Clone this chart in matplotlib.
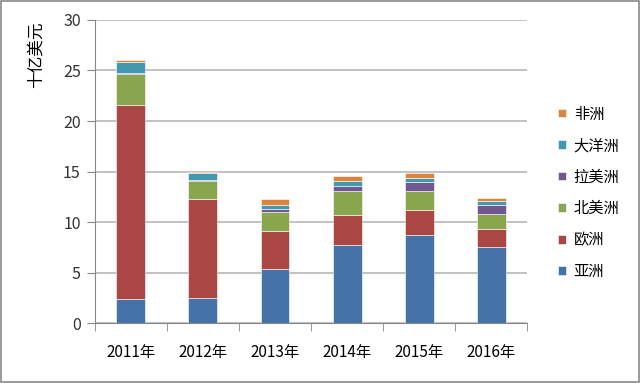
import numpy as np
import matplotlib
matplotlib.use('Agg')
import matplotlib.pyplot as plt
from matplotlib.patches import Rectangle

plt.rcParams['font.family'] = ['Noto Sans CJK SC', 'DejaVu Sans']

years = ['2011年', '2012年', '2013年', '2014年', '2015年', '2016年']
regions = ['亚洲', '欧洲', '北美洲', '拉美洲', '大洋洲', '非洲']
asia = [2.4, 2.5, 5.4, 7.75, 8.7, 7.5]
europe = [19.2, 9.8, 3.75, 2.95, 2.55, 1.8]
n_america = [3.1, 1.8, 1.9, 2.4, 1.85, 1.5]
latam = [0.05, 0.1, 0.22, 0.5, 0.9, 0.85]
oceania = [1.1, 0.7, 0.4, 0.45, 0.35, 0.45]
africa = [0.15, 0.1, 0.63, 0.5, 0.5, 0.3]
colors = ['#4572A7', '#AA4643', '#89A54E', '#71588F', '#4198AF', '#DB843D']

series = [asia, europe, n_america, latam, oceania, africa]

fig = plt.figure(figsize=(6.4, 3.83), dpi=100)
ax = fig.add_axes([0.148, 0.156, 0.676, 0.792])

x = np.arange(len(years))
bottom = np.zeros(len(years))
handles = []
for vals, name, c in zip(series, regions, colors):
    h = ax.bar(x, vals, 0.4, bottom=bottom, color=c, edgecolor='#ffffff', linewidth=0.4,
               label=name, zorder=3)
    handles.append(h)
    bottom += np.array(vals)

ax.set_xlim(-0.5, len(years) - 0.5)
ax.set_ylim(0, 30)
ax.set_yticks(np.arange(0, 31, 5))
ax.set_xticks(x)
ax.set_xticklabels(years, fontsize=11)
ax.set_xticks(np.arange(-0.5, len(years)), minor=True)
ax.tick_params(axis='x', which='major', length=0, pad=15)
ax.tick_params(axis='x', which='minor', length=6, color='#888888')
ax.tick_params(axis='y', length=6, color='#888888', labelsize=11.5, labelcolor='#333333', pad=4)
ax.yaxis.grid(True, color='#b8b8b8', linewidth=1.2, zorder=0)
for s in ['top', 'right']:
    ax.spines[s].set_visible(False)
for s in ['left', 'bottom']:
    ax.spines[s].set_color('#888888')

ax.set_ylabel('十亿美元', fontsize=12)
ax.yaxis.set_label_coords(-0.116, 0.885)

ax.legend(handles[::-1], regions[::-1], loc='center left', bbox_to_anchor=(1.04, 0.43),
          frameon=False, fontsize=11, handlelength=0.5, handleheight=0.5,
          labelspacing=0.95, handletextpad=0.5)

fig.patches.append(Rectangle((0.002, 0.003), 0.996, 0.994, transform=fig.transFigure,
                             fill=False, edgecolor='#888888', linewidth=1.2))

fig.savefig('out.png', dpi=100)
